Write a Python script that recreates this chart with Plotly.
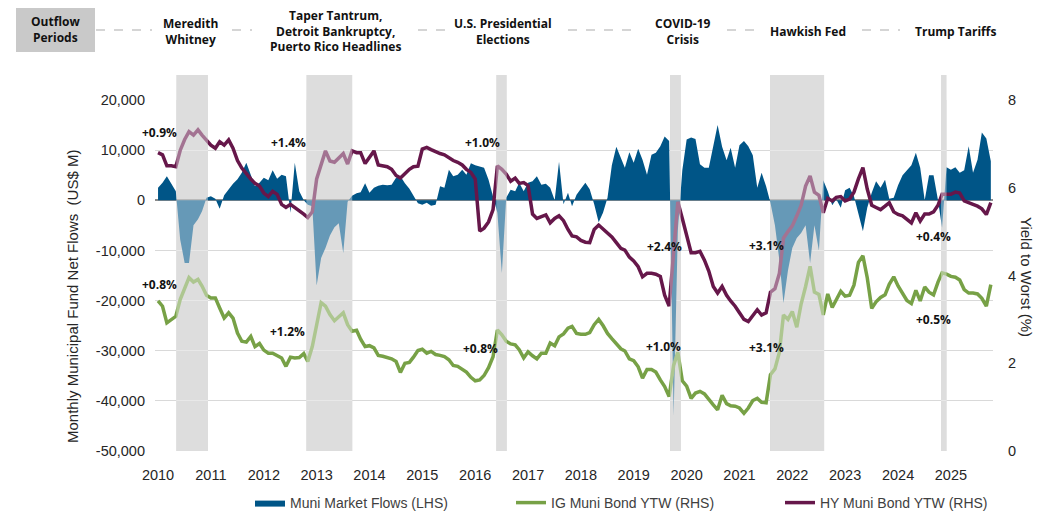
import pandas as pd
import plotly.graph_objects as go

# ---------------- data ----------------
months = pd.date_range("2010-05-01", periods=190, freq="MS")

flows = [2500, 3500, 4800, 3400, 1800, -7800, -12500, -12500, -5000, -3800,
         -2200, 500, 800, 300, -1700, 1000, 2300, 3300, 4200, 5500,
         7500, 5000, 2800, 3500, 4500, 4000, 6000, 4300, 5100, 4800,
         -2500, 7500, 1800, 0, -900, -1200, -17000, -11500, -9500, -7000,
         -5400, -4600, -10500, -300, 900, 1400, 1600, 3400, 1500, 2500,
         2900, 3100, 3000, 3100, 4500, 4800, 3400, 2300, 800, -600,
         -900, -500, -1100, -900, 2800, 2500, 6100, 4800, 5100, 6100,
         5100, 7400, 7000, 6700, 6500, 4100, 1000, -2500, -14500, 500,
         2100, 1800, 3500, 1800, 3500, 3800, 4800, 3100, 3300, 2500,
         0, 7700, -800, 1500, -1200, 1100, 2300, 3500, 2200, -800,
         -4400, -2500, 500, 7000, 10700, 8500, 6500, 9600, 7500, 10300,
         8100, 5100, 9100, 9500, 10800, 12700, 11800, -43000, -6000, 6000,
         12100, 12500, 12200, 7200, 6500, 6500, 10500, 15000, 10700, 8000,
         10500, 6500, 11000, 11800, 10800, 9000, 2500, 5500, 2800, -500,
         -5000, -12000, -20500, -14000, -9500, -7500, -6500, -5000, -12500, -5000,
         -10000, 4000, 1800, -1000, 200, -1500, 2000, 2500, 800, -2500,
         -6200, -1500, 1500, 3800, 2500, 4100, 300, 500, 3000, 5000,
         6100, 7000, 9500, 6500, 0, 5000, 5000, 0, -5500, 6600,
         6100, 6600, 5500, 6000, 10800, 5500, 8100, 13500, 12300, 7800]

ig_ytw = [3.42, 3.30, 2.92, 3.00, 3.07, 3.45, 3.72, 3.95, 3.85, 3.91,
          3.76, 3.55, 3.49, 3.49, 3.26, 3.03, 3.15, 3.03, 2.69, 2.50,
          2.48, 2.61, 2.38, 2.45, 2.30, 2.23, 2.23, 2.17, 2.12, 1.93,
          2.14, 2.12, 2.13, 2.22, 2.04, 2.38, 2.92, 3.38, 3.30, 3.11,
          2.97, 3.07, 3.15, 2.88, 2.73, 2.75, 2.55, 2.38, 2.40, 2.35,
          2.18, 2.16, 2.13, 2.10, 2.04, 1.79, 2.00, 2.02, 2.14, 2.29,
          2.32, 2.23, 2.27, 2.20, 2.18, 2.15, 2.08, 1.95, 1.93, 1.87,
          1.80, 1.68, 1.60, 1.62, 1.72, 1.90, 2.15, 2.76, 2.65, 2.50,
          2.44, 2.42, 2.31, 2.12, 2.26, 2.17, 2.10, 2.23, 2.23, 2.46,
          2.40, 2.60, 2.67, 2.80, 2.84, 2.68, 2.66, 2.66, 2.70, 2.88,
          3.00, 2.86, 2.68, 2.56, 2.45, 2.33, 2.28, 2.10, 2.06, 1.92,
          1.66, 1.86, 1.86, 1.80, 1.62, 1.47, 1.24, 1.95, 2.25, 1.60,
          1.48, 1.20, 1.32, 1.36, 1.30, 1.17, 1.05, 0.94, 1.27, 1.08,
          1.03, 1.02, 0.98, 0.86, 0.98, 1.15, 1.20, 1.11, 1.10, 1.74,
          1.87, 2.25, 3.10, 3.00, 3.18, 2.82, 3.35, 3.75, 4.21, 3.62,
          3.57, 3.10, 3.58, 3.27, 3.45, 3.64, 3.53, 3.55, 3.78, 4.30,
          4.45, 3.95, 3.25, 3.40, 3.50, 3.56, 3.80, 3.97, 3.76, 3.60,
          3.43, 3.36, 3.66, 3.42, 3.74, 3.62, 3.56, 3.85, 4.06, 4.03,
          3.98, 3.96, 3.90, 3.68, 3.60, 3.60, 3.58, 3.48, 3.30, 3.79]

hy_ytw = [6.80, 6.75, 6.50, 6.50, 6.48, 6.85, 7.10, 7.28, 7.20, 7.32,
          7.20, 7.08, 6.97, 6.90, 7.05, 6.97, 7.09, 6.90, 6.62, 6.45,
          6.31, 6.20, 6.10, 6.04, 5.88, 5.80, 5.92, 5.85, 5.62, 5.55,
          5.62, 5.55, 5.49, 5.40, 5.32, 5.45, 6.20, 6.55, 6.84, 6.61,
          6.58, 6.68, 6.78, 6.54, 6.84, 6.80, 6.80, 6.55, 6.70, 6.84,
          6.52, 6.50, 6.48, 6.42, 6.28, 6.22, 6.32, 6.42, 6.48, 6.49,
          6.88, 6.92, 6.87, 6.82, 6.78, 6.75, 6.68, 6.62, 6.58, 6.52,
          6.42, 6.35, 6.20, 5.01, 5.08, 5.22, 5.50, 6.50, 6.42, 6.31,
          6.15, 6.22, 6.10, 6.12, 6.05, 5.40, 5.30, 5.33, 5.38, 5.20,
          5.30, 5.36, 5.25, 5.05, 4.90, 4.88, 4.80, 4.76, 4.75, 5.05,
          5.15, 5.06, 4.97, 4.88, 4.75, 4.62, 4.58, 4.42, 4.33, 4.20,
          3.97, 4.05, 4.05, 4.03, 3.98, 3.55, 3.30, 4.60, 5.68, 5.30,
          4.92, 4.52, 4.52, 4.55, 4.35, 4.10, 3.75, 3.60, 3.75, 3.55,
          3.42, 3.30, 3.15, 3.00, 2.95, 3.10, 3.22, 3.10, 3.15, 3.62,
          3.70, 4.05, 4.85, 5.00, 5.13, 5.36, 5.60, 6.04, 6.27, 5.90,
          5.83, 5.43, 5.76, 5.70, 5.78, 5.80, 5.70, 5.74, 5.90, 6.20,
          6.46, 5.97, 5.60, 5.55, 5.50, 5.58, 5.66, 5.45, 5.39, 5.36,
          5.28, 5.20, 5.43, 5.24, 5.40, 5.40, 5.45, 5.60, 5.85, 5.85,
          5.85, 5.90, 5.88, 5.70, 5.65, 5.62, 5.58, 5.52, 5.39, 5.66]

year_labels = [str(y) for y in range(2010, 2026)]
year_ticks = pd.date_range("2010-05-01", periods=16, freq="12MS")

left_ticks = [-50000, -40000, -30000, -20000, -10000, 0, 10000, 20000]
left_labels = ["-50,000", "-40,000", "-30,000", "-20,000", "-10,000", "0", "10,000", "20,000"]
right_ticks = [0, 2, 4, 6, 8]

outflow_starts = ["2010-09-04", "2013-02-19", "2016-09-23", "2020-01-07", "2021-11-28", "2025-02-22"]
outflow_ends = ["2011-04-11", "2014-01-02", "2016-12-05", "2020-03-22", "2022-12-07", "2025-04-01"]

period_names = ["Meredith<br>Whitney",
                "Taper Tantrum,<br>Detroit Bankruptcy,<br>Puerto Rico Headlines",
                "U.S. Presidential<br>Elections",
                "COVID-19<br>Crisis",
                "Hawkish Fed",
                "Trump Tariffs"]

hy_changes = ["+0.9%", "+1.4%", "+1.0%", "+2.4%", "+3.1%", "+0.4%"]
ig_changes = ["+0.8%", "+1.2%", "+0.8%", "+1.0%", "+3.1%", "+0.5%"]

# ---------------- layout helpers ----------------
# the page body adds an 8px offset, so the figure is laid out in page pixels minus 8
OFF = 8
W, H = 1047 - OFF, 512 - OFF
L, R, T, B = 155, 993, 100, 451   # plot area in page pixels


def px_x(px):
    return (px - L) / (R - L)


def px_y(py):
    return (B - py) / (B - T)


FLOW_C = "#005587"
IG_C = "#77a146"
HY_C = "#66174a"
TXT = "#262626"

fig = go.Figure()
fig.add_trace(go.Scatter(x=months, y=flows, name="Muni Market Flows (LHS)",
                         mode="lines", line=dict(width=0, color=FLOW_C),
                         fill="tozeroy", fillcolor=FLOW_C, yaxis="y", legend="legend"))
fig.add_trace(go.Scatter(x=months, y=ig_ytw, name="IG Muni Bond YTW (RHS)",
                         mode="lines", line=dict(width=3.5, color=IG_C), yaxis="y2",
                         legend="legend2"))
fig.add_trace(go.Scatter(x=months, y=hy_ytw, name="HY Muni Bond YTW (RHS)",
                         mode="lines", line=dict(width=3.5, color=HY_C), yaxis="y2",
                         legend="legend3"))

shapes = []
for s, e in zip(outflow_starts, outflow_ends):
    shapes.append(dict(type="rect", xref="x", yref="paper", x0=s, x1=e, y0=0, y1=1,
                       fillcolor="#c6c6c6", line=dict(width=0), layer="between"))
    shapes.append(dict(type="rect", xref="x", yref="paper", x0=s, x1=e, y0=1, y1=px_y(75),
                       fillcolor="#dddddd", line=dict(width=0), layer="below"))
    shapes.append(dict(type="rect", xref="x", yref="paper", x0=s, x1=e, y0=0, y1=1,
                       fillcolor="white", opacity=0.4, line=dict(width=0), layer="above"))

# header box and dashed connectors
shapes.append(dict(type="rect", xref="paper", yref="paper", x0=px_x(16), x1=px_x(95),
                   y0=px_y(52), y1=px_y(7), fillcolor="#c9c9c9", line=dict(width=0)))
for a, b in [(96, 152), (232, 252), (418, 447), (568, 636), (727, 758), (862, 900)]:
    shapes.append(dict(type="line", xref="paper", yref="paper", x0=px_x(a), x1=px_x(b),
                       y0=px_y(30), y1=px_y(30), line=dict(color="#c8c8c8", width=1.5, dash="dash")))

hfont = dict(family="Open Sans, DejaVu Sans", size=12, color="#111111")


def note(text, x, y, font, **kw):
    d = dict(xref="paper", yref="paper", x=px_x(x), y=px_y(y), text=text, showarrow=False,
             font=font, xanchor="center", yanchor="middle")
    d.update(kw)
    return d


annotations = [note("<b>Outflow<br>Periods</b>", 55.5, 30, hfont)]
for name, cx in zip(period_names, [190.5, 335, 503, 683, 808, 955]):
    annotations.append(note("<b>" + name + "</b>", cx, 31, hfont))

lbl_font = dict(family="Open Sans, DejaVu Sans", size=12, color="#111111")
hy_pos = [(159, 132), (288, 142), (482, 142), (664, 246), (766, 245.5), (933, 236)]
ig_pos = [(159, 284), (287, 331.7), (480, 348), (663, 346), (766, 347), (933, 319.3)]
for txt, (x, y) in list(zip(hy_changes, hy_pos)) + list(zip(ig_changes, ig_pos)):
    annotations.append(note("<b>" + txt + "</b>", x, y, lbl_font))

afont = dict(family="Arial, Liberation Sans", size=15, color=TXT)
annotations.append(note("Monthly Municipal Fund Net Flows  (US$ M)", 72, 297, afont, textangle=-90))
annotations.append(note("Yield to Worst (%)", 1027, 277, afont, textangle=90))

tfont = dict(family="Arial, Liberation Sans", size=14.5, color=TXT)
lgfont = dict(family="Arial, Liberation Sans", size=14, color="#404040")


def legend_at(px):
    return dict(orientation="h", x=px_x(px), xanchor="left", y=px_y(503), yanchor="middle",
                font=lgfont, bgcolor="rgba(0,0,0,0)", borderwidth=0, itemwidth=30)


fig.update_layout(
    width=W, height=H,
    margin=dict(l=L - OFF, r=W - (R - OFF), t=T - OFF, b=H - (B - OFF), autoexpand=False),
    paper_bgcolor="white", plot_bgcolor="white",
    showlegend=True,
    legend=legend_at(250),
    legend2=legend_at(511),
    legend3=legend_at(780),
    xaxis=dict(type="date", range=["2010-04-10", "2026-02-16"], tickvals=year_ticks,
               ticktext=year_labels, showgrid=False, zeroline=False, showline=False,
               ticks="", tickfont=tfont, ticklabelstandoff=13, automargin=False),
    yaxis=dict(range=[-50000, 20000], tickvals=left_ticks, ticktext=left_labels,
               showgrid=True, gridcolor="#d9d9d9", gridwidth=1,
               zeroline=True, zerolinecolor="#8c8c8c", zerolinewidth=2,
               ticks="", tickfont=tfont, ticklabelstandoff=9, automargin=False),
    yaxis2=dict(range=[0, 8], tickvals=right_ticks, overlaying="y", side="right",
                showgrid=False, zeroline=False, ticks="", tickfont=tfont,
                ticklabelstandoff=14, automargin=False),
    shapes=shapes,
    annotations=annotations,
)

fig.write_html("out.html")
